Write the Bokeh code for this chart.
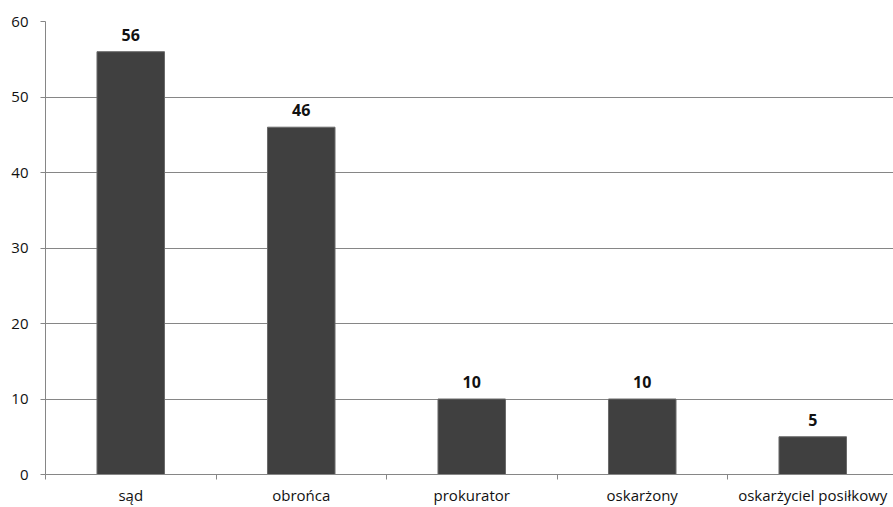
from bokeh.plotting import figure
from bokeh.models import Range1d, FixedTicker, ColumnDataSource
from bokeh.core.properties import value
from bokeh.embed import file_html
from bokeh.resources import INLINE

# Data
categories = ["sąd", "obrońca", "prokurator", "oskarżony", "oskarżyciel posiłkowy"]
counts = [56, 46, 10, 10, 5]
y_ticks = [0, 10, 20, 30, 40, 50, 60]

FONT = "Open Sans"
GRAY = "#868686"
BAR = "#404040"

centers = [i + 0.5 for i in range(len(categories))]
boundaries = list(range(len(categories) + 1))

src = ColumnDataSource(dict(x=centers, top=counts, label=[str(c) for c in counts]))

p = figure(width=893, height=507, output_backend="svg", toolbar_location=None,
           x_range=Range1d(0, 848 / 170.5), y_range=Range1d(0, 60),
           min_border_left=45, min_border_right=0, min_border_top=21, min_border_bottom=33)
p.outline_line_color = None
p.background_fill_color = "white"
p.border_fill_color = "white"

p.vbar(x="x", top="top", width=0.396, bottom=0, source=src,
       fill_color=BAR, line_color="#6a6a6a", line_width=1)

# value labels above the bars
p.text(x="x", y="top", text="label", source=src, text_align="center",
       text_baseline="alphabetic", y_offset=-17, text_font=value(FONT),
       text_font_size="16px", text_font_style="bold", text_color="#111111")

# y axis
p.yaxis.ticker = FixedTicker(ticks=y_ticks)
p.yaxis.axis_line_color = GRAY
p.yaxis.major_tick_line_color = GRAY
p.yaxis.major_tick_out = 5
p.yaxis.major_tick_in = 0
p.yaxis.minor_tick_line_color = None
p.yaxis.major_label_text_font = FONT
p.yaxis.major_label_text_font_size = "15px"
p.yaxis.major_label_text_color = "#111111"
p.yaxis.major_label_standoff = 12

# x axis: labels at centers, ticks at category boundaries
p.xaxis.ticker = FixedTicker(ticks=centers, minor_ticks=boundaries)
p.xaxis.major_label_overrides = {c: cat for c, cat in zip(centers, categories)}
p.xaxis.axis_line_color = GRAY
p.xaxis.major_tick_line_color = None
p.xaxis.major_tick_out = 0
p.xaxis.major_tick_in = 0
p.xaxis.minor_tick_line_color = GRAY
p.xaxis.minor_tick_out = 5
p.xaxis.minor_tick_in = 0
p.xaxis.major_label_text_font = FONT
p.xaxis.major_label_text_font_size = "15px"
p.xaxis.major_label_text_color = "#111111"
p.xaxis.major_label_standoff = 5

p.xgrid.grid_line_color = None
p.ygrid.ticker = FixedTicker(ticks=y_ticks)
p.ygrid.grid_line_color = GRAY
p.ygrid.grid_line_width = 1

open("out.html", "w").write(file_html(p, INLINE))
